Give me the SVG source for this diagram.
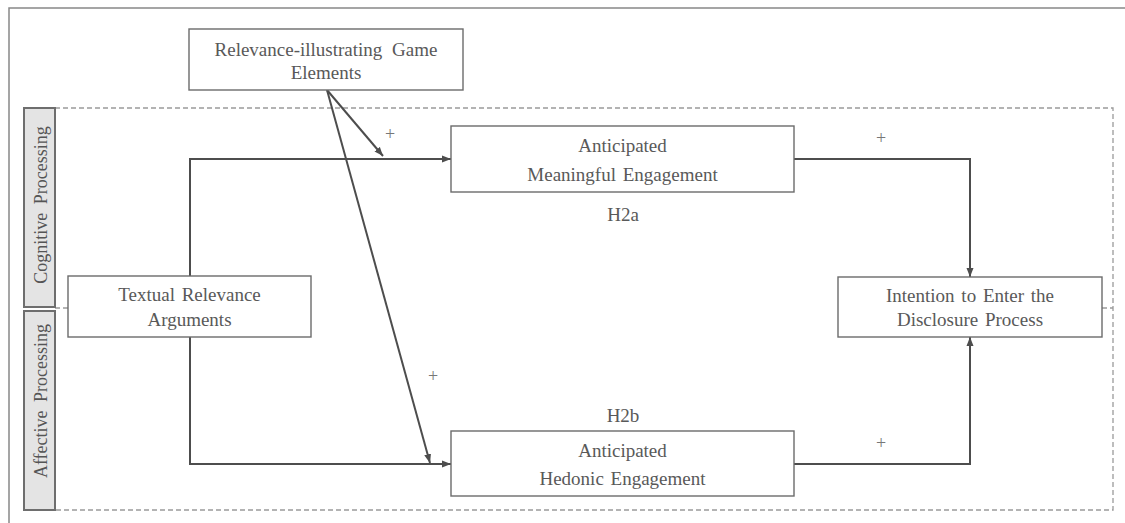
<svg xmlns="http://www.w3.org/2000/svg" width="1125" height="523" viewBox="0 0 1125 523">
<defs>
<marker id="arr" markerUnits="userSpaceOnUse" markerWidth="10" markerHeight="8" refX="9" refY="4" orient="auto">
<path d="M0,0.5 L9,4 L0,7.5 Z" fill="#4d4d4d"/>
</marker>
<style>
.box{fill:#fff;stroke:#6b6b6b;stroke-width:1.4}
.lane{fill:#e4e4e4;stroke:#6e6e6e;stroke-width:2}
.t{font-family:"Liberation Serif","Times New Roman",serif;font-size:19px;fill:#595959;text-anchor:middle;word-spacing:2px}
.lt{font-family:"Liberation Serif","Times New Roman",serif;font-size:18px;fill:#555;text-anchor:middle;word-spacing:4px}
.p{font-family:"Liberation Serif","Times New Roman",serif;font-size:18px;fill:#777;text-anchor:middle}
.c{fill:none;stroke:#4d4d4d;stroke-width:2}
.d{fill:none;stroke:#9a9a9a;stroke-width:1.3;stroke-dasharray:5 3}
</style>
</defs>
<rect width="1125" height="523" fill="#fff"/>
<path d="M9,523 V8 H1125" fill="none" stroke="#888" stroke-width="1.5"/>
<g id="lanes">
<rect x="55" y="108" width="1058" height="402" class="d"/>
<path d="M55,308 H68" class="d"/>
<path d="M1102,308 H1113" class="d"/>
<g id="lane-cognitive">
<rect x="24" y="108" width="31" height="199" class="lane"/>
<text class="lt" transform="translate(46.5,205) rotate(-90)">Cognitive Processing</text>
</g>
<g id="lane-affective">
<rect x="24" y="311" width="31" height="199" class="lane"/>
<text class="lt" transform="translate(46.5,401) rotate(-90)">Affective Processing</text>
</g>
</g>
<g id="connectors">
<path d="M190,276 V159 H451" class="c" marker-end="url(#arr)"/>
<path d="M190,337 V464 H451" class="c" marker-end="url(#arr)"/>
<path d="M794,159 H970 V277" class="c" marker-end="url(#arr)"/>
<path d="M794,464 H970 V337" class="c" marker-end="url(#arr)"/>
<path d="M327,90 L383,156" class="c" marker-end="url(#arr)"/>
<path d="M327,90 L430,463" class="c" marker-end="url(#arr)"/>
<text class="p" x="390" y="140">+</text>
<text class="p" x="881" y="144">+</text>
<text class="p" x="433" y="382">+</text>
<text class="p" x="881" y="449">+</text>
<text class="t" x="623" y="221">H2a</text>
<text class="t" x="623" y="422">H2b</text>
</g>
<g id="game-elements">
<rect x="189" y="29" width="274" height="61" class="box"/>
<text class="t" x="326" y="56" style="word-spacing:5px">Relevance-illustrating Game</text>
<text class="t" x="326" y="79">Elements</text>
</g>
<g id="textual-arguments">
<rect x="68" y="276" width="243" height="61" class="box"/>
<text class="t" x="189.5" y="301">Textual Relevance</text>
<text class="t" x="189.5" y="326">Arguments</text>
</g>
<g id="meaningful-engagement">
<rect x="451" y="126" width="343" height="66" class="box"/>
<text class="t" x="622.5" y="152">Anticipated</text>
<text class="t" x="622.5" y="181">Meaningful Engagement</text>
</g>
<g id="hedonic-engagement">
<rect x="451" y="431" width="343" height="65" class="box"/>
<text class="t" x="622.5" y="457">Anticipated</text>
<text class="t" x="622.5" y="485">Hedonic Engagement</text>
</g>
<g id="intention">
<rect x="838" y="277" width="264" height="60" class="box"/>
<text class="t" x="970" y="302">Intention to Enter the</text>
<text class="t" x="970" y="326">Disclosure Process</text>
</g>
</svg>
